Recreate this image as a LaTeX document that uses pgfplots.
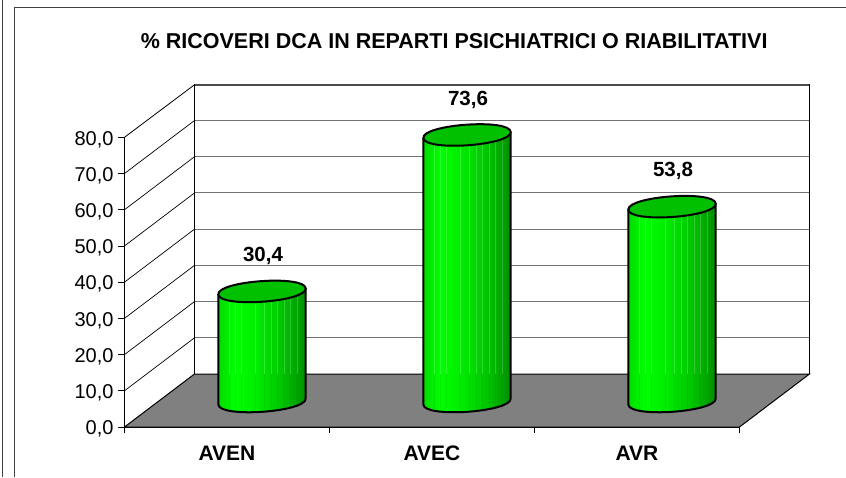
\documentclass[border=0pt]{standalone}
\usepackage{fontspec}
\setmainfont{Liberation Sans}
\usepackage{pgfplots}
\pgfplotsset{compat=1.18}

% body of the cylinder: width of the path is mapped on 25bp..75bp
\pgfdeclarehorizontalshading{cyl}{100bp}{
  rgb(0bp)=(0,.86,0);
  rgb(25bp)=(0,.86,0);
  rgb(34bp)=(0,1,0);
  rgb(47bp)=(0,.92,0);
  rgb(62bp)=(0,.76,0);
  rgb(72bp)=(0,.6,0);
  rgb(75bp)=(0,.55,0);
  rgb(100bp)=(0,.55,0)}
\definecolor{cyltop}{RGB}{0,192,0}

% one cylinder, \h = height of the value in pt
\pgfdeclareplotmark{cylinder}{%
  \begin{pgfscope}%
  \pgftransformshift{\pgfpoint{35pt}{25.5pt}}%
  \path[shade,shading=cyl]
    (-43.7pt,{-3.06pt-\h pt}) .. controls (-42.74pt,{-16.76pt-\h pt}) and (44.66pt,{-10.64pt-\h pt}) .. (43.7pt,{3.06pt-\h pt})
    -- (43.7pt,3.06pt) -- (-43.7pt,-3.06pt) -- cycle;
  \foreach \s in {-33,-27,-21,-7,2,9,15,22,28,35}{
    \draw[white,opacity=.2,line width=.6pt] (\s pt,0pt) -- (\s pt,{27.5pt-\h pt});
    \draw[black,opacity=.06,line width=.6pt] (\s pt,{27.5pt-\h pt}) -- (\s pt,{-\h pt-8pt});
  }
  \draw[black,line width=2pt,line join=round]
    (-43.7pt,-3.06pt) -- (-43.7pt,{-3.06pt-\h pt}) .. controls (-42.74pt,{-16.76pt-\h pt}) and (44.66pt,{-10.64pt-\h pt}) .. (43.7pt,{3.06pt-\h pt})
    -- (43.7pt,3.06pt);
  \path[fill=cyltop,draw=black,line width=2pt]
    (-43.7pt,-3.06pt) .. controls (-44.66pt,10.64pt) and (42.74pt,16.76pt) .. (43.7pt,3.06pt)
    .. controls (44.66pt,-10.64pt) and (-42.74pt,-16.76pt) .. cycle;
  \end{pgfscope}%
}

\begin{document}
\begin{tikzpicture}
\useasboundingbox (-124.5pt,-50pt) rectangle (721.5pt,427pt);
% outer frame
\draw[black!75,line width=1.4pt] (-122.2pt,-50pt) -- (-122.2pt,427pt);
\draw[black!75,line width=1.4pt] (-110pt,-50pt) -- (-110pt,419.3pt) -- (721.5pt,419.3pt);
\begin{axis}[
  scale only axis,
  width=615pt, height=289.7pt,
  xmin=0, xmax=3, ymin=0, ymax=80,
  clip=false,
  axis x line*=bottom, axis y line*=left,
  axis line style={-,black,line width=.9pt},
  xtick={0.5,1.5,2.5},
  xticklabels={AVEN,AVEC,AVR},
  minor xtick={0,1,2,3},
  major x tick style={draw=none},
  minor tick length=6pt,
  minor tick style={black,line width=.8pt},
  x tick label style={font=\fontsize{21}{23}\selectfont\bfseries,text height=15pt,text depth=0pt,yshift=-9pt},
  ytick={0,10,...,80},
  tick align=outside,
  major tick length=6pt,
  y tick style={black,line width=.8pt},
  y tick label style={font=\fontsize{20}{22}\selectfont,text height=14.5pt,text depth=0pt,xshift=-1.5pt,yshift=-.5pt},
  /pgf/number format/assume math mode=true,
  /pgf/number format/fixed,
  /pgf/number format/fixed zerofill,
  /pgf/number format/precision=1,
  /pgf/number format/use comma,
  title={\% RICOVERI DCA IN REPARTI PSICHIATRICI O RIABILITATIVI},
  title style={at={(axis description cs:0.536,1)},anchor=center,yshift=90.3pt,font=\fontsize{21.5}{23}\selectfont\bfseries},
]
% floor
\fill[fill=black!50] (axis cs:0,0) -- (axis cs:3,0) -- ++(70pt,53pt) -- ++(-615pt,0pt) -- cycle;
\draw[black,line width=1pt] (axis cs:0,0) -- (axis cs:3,0) -- ++(70pt,53pt) -- ++(-615pt,0pt) -- cycle;
% walls
\pgfplotsinvokeforeach{10,20,...,70}{
  \draw[black!55,line width=1pt] (axis cs:0,#1) ++(70pt,53pt) -- ++(615pt,0pt);
  \draw[black,line width=.7pt] (axis cs:0,#1) -- ++(70pt,53pt);
}
\draw[black,line width=.8pt] (axis cs:0,80) -- ++(70pt,52.5pt);
\draw[black!70,line width=1.5pt] (axis cs:0,80) ++(70pt,52.5pt) -- ++(615pt,0pt);
\draw[black,line width=.8pt] (axis cs:0,0) ++(70pt,53pt) -- ++(0pt,289.7pt);
\draw[black,line width=.8pt] (axis cs:3,0) ++(70pt,53pt) -- ++(0pt,289.7pt);
% the bars
\addplot[
  scatter, only marks, mark=cylinder,
  point meta=explicit symbolic,
  visualization depends on={rawy*3.621 \as \h},
  nodes near coords,
  every node near coord/.style={anchor=center,xshift=36pt,yshift=61pt,font=\fontsize{20.5}{22}\selectfont\bfseries},
] coordinates {(0.5,30.4)[30,4] (1.5,73.6)[73,6] (2.5,53.8)[53,8]};
\end{axis}
\end{tikzpicture}
\end{document}
